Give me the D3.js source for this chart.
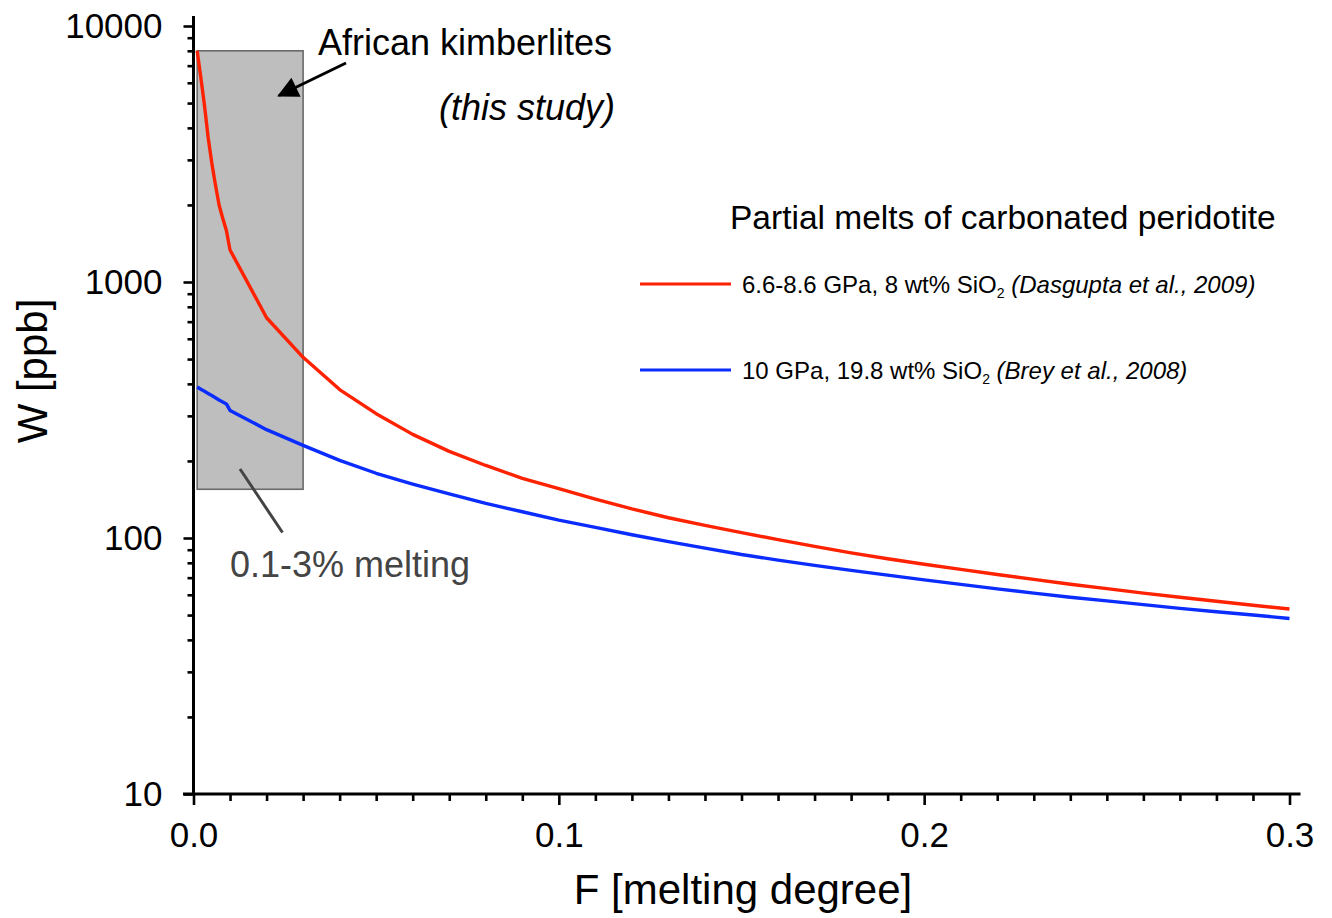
<!DOCTYPE html>
<html>
<head>
<meta charset="utf-8">
<script src="https://cdn.jsdelivr.net/npm/d3@7/dist/d3.min.js"></script>
<style>
  html, body { margin: 0; padding: 0; background: #fff; }
  svg { display: block; font-family: "Liberation Sans", Arial, Helvetica, sans-serif; }
</style>
</head>
<body>
<svg id="chart" width="1332" height="918"></svg>
<script>
// ---------- data ----------
const meltF = [0.001, 0.002, 0.003, 0.004, 0.005, 0.006, 0.007, 0.008, 0.009,
  0.01, 0.02, 0.03, 0.04, 0.05, 0.06, 0.07, 0.08, 0.09, 0.10,
  0.11, 0.12, 0.13, 0.14, 0.15, 0.16, 0.17, 0.18, 0.19, 0.20,
  0.21, 0.22, 0.23, 0.24, 0.25, 0.26, 0.27, 0.28, 0.29, 0.30];
const dasguptaW = [8000, 6300, 4900, 3680, 2920, 2400, 2000, 1775, 1590,
  1334, 725, 508, 380, 306, 254, 218, 192, 171, 156,
  142, 130, 120, 112, 105, 98.5, 92.8, 87.5, 83, 79,
  75.4, 72, 68.9, 66, 63.4, 60.9, 58.7, 56.6, 54.6, 52.8];
const breyW = [389, 381, 374, 367, 360, 353, 346, 340, 334,
  315, 265, 230, 201, 179, 162.5, 148.6, 136.6, 126.6, 117.5,
  110, 103, 96.8, 91.3, 86.2, 82, 78.2, 74.7, 71.6, 68.6,
  65.9, 63.3, 60.9, 58.7, 56.8, 54.9, 53.1, 51.5, 50, 48.5];
const kimberliteRange = { f: [0.001, 0.03], w: [155, 8000] };
const xMajorTicks = [0, 0.1, 0.2, 0.3];
const xTickLabels = ["0.0", "0.1", "0.2", "0.3"];
const yMajorTicks = [10, 100, 1000, 10000];
const yTickLabels = ["10", "100", "1000", "10000"];
const seriesNames = ["6.6-8.6 GPa, 8 wt% SiO", "10 GPa, 19.8 wt% SiO"];
const seriesRefs = ["(Dasgupta et al., 2009)", "(Brey et al., 2008)"];

// ---------- scales ----------
const svg = d3.select("#chart");
const x = d3.scaleLinear().domain([0, 0.3]).range([193.5, 1289.5]);
const y = d3.scaleLog().domain([10, 10000]).range([794, 26]);

const xMinor = d3.range(0, 31).map(i => i / 100).filter(v => !xMajorTicks.some(m => Math.abs(m - v) < 1e-9));
const yMinor = [];
[10, 100, 1000].forEach(d => { for (let k = 2; k <= 9; k++) yMinor.push(d * k); });

// ---------- kimberlite box ----------
svg.append("rect")
  .attr("x", x(kimberliteRange.f[0]))
  .attr("y", y(kimberliteRange.w[1]))
  .attr("width", x(kimberliteRange.f[1]) - x(kimberliteRange.f[0]))
  .attr("height", y(kimberliteRange.w[0]) - y(kimberliteRange.w[1]))
  .attr("fill", "#bebebe").attr("stroke", "#6a6a6a").attr("stroke-width", 1.6);

// ---------- curves ----------
const line = d3.line().x(d => x(d[0])).y(d => y(d[1]));
const redData = meltF.map((f, i) => [f, dasguptaW[i]]);
const blueData = meltF.map((f, i) => [f, breyW[i]]);
svg.append("path").datum(blueData).attr("d", line)
  .attr("fill", "none").attr("stroke", "#0a2cff").attr("stroke-width", 3.4).attr("stroke-linejoin", "round");
svg.append("path").datum(redData).attr("d", line)
  .attr("fill", "none").attr("stroke", "#ff2200").attr("stroke-width", 3.4).attr("stroke-linejoin", "round");

// ---------- axes ----------
const axisColor = "#000";
// axis lines
svg.append("line").attr("x1", x(0)).attr("x2", x(0)).attr("y1", y(10000) - 10).attr("y2", y(10))
  .attr("stroke", axisColor).attr("stroke-width", 3);
svg.append("line").attr("x1", x(0) - 10.5).attr("x2", x(0.3) + 11).attr("y1", y(10)).attr("y2", y(10))
  .attr("stroke", axisColor).attr("stroke-width", 3);

const yAxis = d3.axisLeft(y).tickValues(yMajorTicks).tickSize(10).tickPadding(21)
  .tickFormat((d, i) => yTickLabels[i]);
const gy = svg.append("g").attr("transform", `translate(${x(0)},0)`).call(yAxis);
const yAxisMinor = d3.axisLeft(y).tickValues(yMinor).tickSize(6).tickFormat("");
const gym = svg.append("g").attr("transform", `translate(${x(0)},0)`).call(yAxisMinor);

const xAxis = d3.axisBottom(x).tickValues(xMajorTicks).tickSize(11).tickPadding(17)
  .tickFormat((d, i) => xTickLabels[i]);
const gx = svg.append("g").attr("transform", `translate(0,${y(10)})`).call(xAxis);
const xAxisMinor = d3.axisBottom(x).tickValues(xMinor).tickSize(7).tickFormat("");
const gxm = svg.append("g").attr("transform", `translate(0,${y(10)})`).call(xAxisMinor);

[gy, gym, gx, gxm].forEach(g => {
  g.select(".domain").remove();
  g.selectAll(".tick line").attr("stroke", axisColor).attr("stroke-width", 2.6);
  g.selectAll(".tick text").attr("fill", "#000").attr("font-size", 35)
    .attr("font-family", "'Liberation Sans', Arial, sans-serif");
});

// axis titles
svg.append("text").attr("x", 743).attr("y", 904).attr("text-anchor", "middle")
  .attr("font-size", 42).attr("fill", "#000").text("F [melting degree]");
svg.append("text").attr("transform", "translate(47,371) rotate(-90)").attr("text-anchor", "middle")
  .attr("font-size", 42).attr("fill", "#000").text("W [ppb]");

// ---------- annotations ----------
svg.append("text").attr("x", 318).attr("y", 55).attr("font-size", 36).attr("fill", "#000")
  .text("African kimberlites");
svg.append("text").attr("x", 615).attr("y", 120).attr("text-anchor", "end").attr("font-size", 36)
  .attr("font-style", "italic").attr("fill", "#000").text("(this study)");

// arrow
svg.append("defs").append("marker").attr("id", "ah").attr("viewBox", "0 0 10 10")
  .attr("refX", 9).attr("refY", 5).attr("markerWidth", 8).attr("markerHeight", 7)
  .attr("markerUnits", "strokeWidth").attr("orient", "auto")
  .append("path").attr("d", "M0,0 L10,5 L0,10 Z").attr("fill", "#000");
svg.append("line").attr("x1", 346).attr("y1", 63).attr("x2", 279).attr("y2", 95.5)
  .attr("stroke", "#000").attr("stroke-width", 3).attr("marker-end", "url(#ah)");

// melting annotation
svg.append("line").attr("x1", 240).attr("y1", 469).attr("x2", 282.5).attr("y2", 532.5)
  .attr("stroke", "#444").attr("stroke-width", 3);
svg.append("text").attr("x", 230).attr("y", 577).attr("font-size", 36).attr("fill", "#444")
  .text("0.1-3% melting");

// ---------- legend ----------
svg.append("text").attr("x", 730).attr("y", 229).attr("font-size", 33.5).attr("fill", "#000")
  .text("Partial melts of carbonated peridotite");

const legendColors = ["#ff2200", "#0a2cff"];
const legendY = [284, 370];
seriesNames.forEach((name, i) => {
  svg.append("line").attr("x1", 640).attr("x2", 731).attr("y1", legendY[i]).attr("y2", legendY[i])
    .attr("stroke", legendColors[i]).attr("stroke-width", 3.2);
  const t = svg.append("text").attr("x", 742).attr("y", legendY[i] + 9).attr("font-size", 24).attr("fill", "#000");
  t.append("tspan").text(name);
  t.append("tspan").attr("font-size", 14).attr("dy", 5).text("2");
  t.append("tspan").attr("dy", -5).text(" ");
  t.append("tspan").attr("font-style", "italic").text(seriesRefs[i]);
});
</script>
</body>
</html>
